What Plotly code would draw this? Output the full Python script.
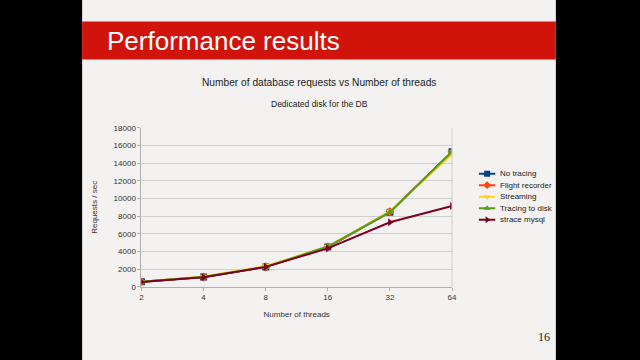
import plotly.graph_objects as go

threads = ["2", "4", "8", "16", "32", "64"]
no_tracing = [560, 1100, 2250, 4500, 8450, 15300]
flight_recorder = [560, 1100, 2250, 4500, 8500, 15250]
streaming = [580, 1150, 2350, 4550, 8550, 15000]
tracing_disk = [560, 1100, 2250, 4550, 8450, 15300]
strace_mysql = [540, 1080, 2250, 4350, 7300, 9150]

names = ["No tracing", "Flight recorder", "Streaming", "Tracing to disk", "strace mysql"]
values = [no_tracing, flight_recorder, streaming, tracing_disk, strace_mysql]
colors = ["#004586", "#ff420e", "#ffd320", "#579d1c", "#7e0021"]
symbols = ["square", "diamond", "triangle-down", "triangle-up", "triangle-right"]

W, H = 640, 360
fig = go.Figure()
for name, vals, col, sym in zip(names, values, colors, symbols):
    fig.add_trace(go.Scatter(
        x=threads, y=vals, name=name, mode="lines+markers",
        line=dict(color=col, width=2),
        marker=dict(symbol=sym, size=7, color=col),
        showlegend=False,
    ))

# custom compact legend drawn on a small auxiliary axis
row_h = 11.8
row0 = 174
for i, (name, col, sym) in enumerate(zip(names, colors, symbols)):
    fig.add_trace(go.Scatter(
        x=[0, 1], y=[i, i], mode="lines", line=dict(color=col, width=2),
        xaxis="x2", yaxis="y2", showlegend=False, hoverinfo="skip"))
    fig.add_trace(go.Scatter(
        x=[0.5], y=[i], mode="markers", marker=dict(symbol=sym, size=6, color=col),
        xaxis="x2", yaxis="y2", showlegend=False, hoverinfo="skip"))
    fig.add_annotation(text=name, xref="paper", yref="paper", x=501 / W,
                       y=1 - (row0 + i * row_h) / H,
                       xanchor="left", yanchor="middle", showarrow=False,
                       font=dict(size=8, color="#222222"))

fnt = "Liberation Sans, Arial, sans-serif"
SLIDE = "#f4f2f0"
leg_top = row0 - row_h / 2
leg_bot = row0 + (len(names) - 0.5) * row_h
fig.update_layout(
    width=W, height=H, margin=dict(l=0, r=0, t=0, b=0),
    paper_bgcolor=SLIDE, plot_bgcolor=SLIDE,
    font=dict(family=fnt, size=8, color="#333333"),
    showlegend=False,
    xaxis=dict(domain=[141 / W, 455 / W], type="category", range=[0, 5],
               showgrid=False, showline=True, linecolor="#b0b0b0", linewidth=1,
               ticks="outside", tickcolor="#b0b0b0", ticklen=3,
               tickfont=dict(size=8, color="#333333"),
               title=dict(text="Number of threads", font=dict(size=8, color="#333333"), standoff=10),
               zeroline=False),
    yaxis=dict(domain=[1 - 290 / H, 1 - 127 / H], range=[0, 18000], dtick=2000,
               showgrid=True, gridcolor="#cfcfcf", gridwidth=1,
               showline=True, linecolor="#b0b0b0", ticks="outside", tickcolor="#b0b0b0", ticklen=3,
               tickfont=dict(size=8, color="#333333"), tickformat="d",
               title=dict(text="Requests / sec", font=dict(size=8, color="#333333"), standoff=14),
               zeroline=False),
    xaxis2=dict(domain=[482 / W, 499 / W], range=[0, 1], visible=False, anchor="y2"),
    yaxis2=dict(domain=[1 - leg_bot / H, 1 - leg_top / H], range=[len(names) - 0.5, -0.5],
                visible=False, anchor="x2"),
    shapes=[
        dict(type="rect", xref="paper", yref="paper", x0=-0.2, x1=81 / W, y0=-0.2, y1=1.2,
             fillcolor="#000000", line=dict(width=0), layer="below"),
        dict(type="rect", xref="paper", yref="paper", x0=560 / W, x1=1.2, y0=-0.2, y1=1.2,
             fillcolor="#000000", line=dict(width=0), layer="below"),
        dict(type="rect", xref="paper", yref="paper", x0=81 / W, x1=560 / W,
             y0=1 - 57 / H, y1=1 - 18 / H, fillcolor="#d0140b", line=dict(width=0), layer="below"),
        dict(type="line", xref="paper", yref="paper", x0=455 / W, x1=455 / W,
             y0=1 - 290 / H, y1=1 - 127 / H, line=dict(color="#cfcfcf", width=1)),
    ],
)
fig.add_annotation(text="Performance results", xref="paper", yref="paper", x=104 / W, y=1 - 38 / H,
                   xanchor="left", yanchor="middle", showarrow=False,
                   font=dict(family=fnt, size=26, color="#ffffff"))
fig.add_annotation(text="Number of database requests vs Number of threads", xref="paper", yref="paper",
                   x=320 / W, y=1 - 81 / H, xanchor="center", yanchor="middle", showarrow=False,
                   font=dict(family=fnt, size=10.2, color="#222222"))
fig.add_annotation(text="Dedicated disk for the DB", xref="paper", yref="paper",
                   x=321 / W, y=1 - 103 / H, xanchor="center", yanchor="middle", showarrow=False,
                   font=dict(family=fnt, size=8.5, color="#222222"))
fig.add_annotation(text="16", xref="paper", yref="paper", x=548 / W, y=1 - 342 / H,
                   xanchor="center", yanchor="middle", showarrow=False,
                   font=dict(family="Liberation Serif, serif", size=12, color="#222222"))
fig.write_html("out.html")
